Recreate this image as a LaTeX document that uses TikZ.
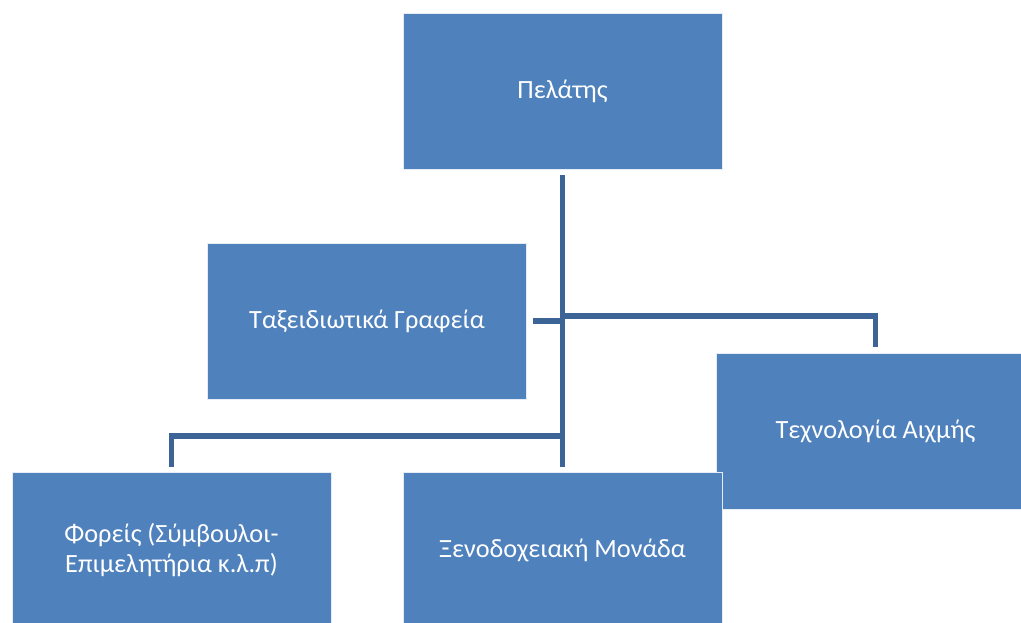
\documentclass[tikz,border=0pt]{standalone}
\usepackage{fontspec}
\setmainfont{Carlito}
\usepackage{tikz}
\usetikzlibrary{calc}

\definecolor{boxblue}{RGB}{79,129,189}
\definecolor{lineblue}{RGB}{60,100,150}

\begin{document}
\begin{tikzpicture}[x=0.025cm, y=-0.025cm,
      unit/.style={rectangle, draw=white!85!boxblue, line width=0.6pt, fill=boxblue, text=white,
        minimum width=7.975cm, minimum height=3.9cm, align=center,
        font=\fontsize{18.7}{22}\selectfont},
      link/.style={draw=lineblue, line width=3.6pt}]

      \useasboundingbox (0,0) rectangle (1021,623);
      \clip (0,0) rectangle (1021,623);

      \node[unit] (client) at (562.5,91) {Πελάτης};
      \node[unit] (agency) at (367,321) {Ταξειδιωτικά Γραφεία};
      \node[unit] (tech) at (875.5,431) {Τεχνολογία Αιχμής};
      \node[unit] (bodies) at (171.5,550) {Φορείς (Σύμβουλοι-\\Επιμελητήρια κ.λ.π)};
      \node[unit] (hotel) at (562.5,550) {Ξενοδοχειακή Μονάδα};

      % Trunk from the client down to the hotel
      \coordinate (splitR) at (563,316);
      \coordinate (splitL) at (563,436);
      \draw[link] ([yshift=-0.15cm]client.south) -- ([yshift=0.125cm]hotel.north);

      % Branches
      \draw[link] ([xshift=0.15cm]agency.east) -- (agency.east -| splitR);
      \draw[link] (splitR) -| ([yshift=0.15cm]tech.north);
      \draw[link] (splitL) -| ([yshift=0.125cm]bodies.north);
    \end{tikzpicture}
\end{document}
